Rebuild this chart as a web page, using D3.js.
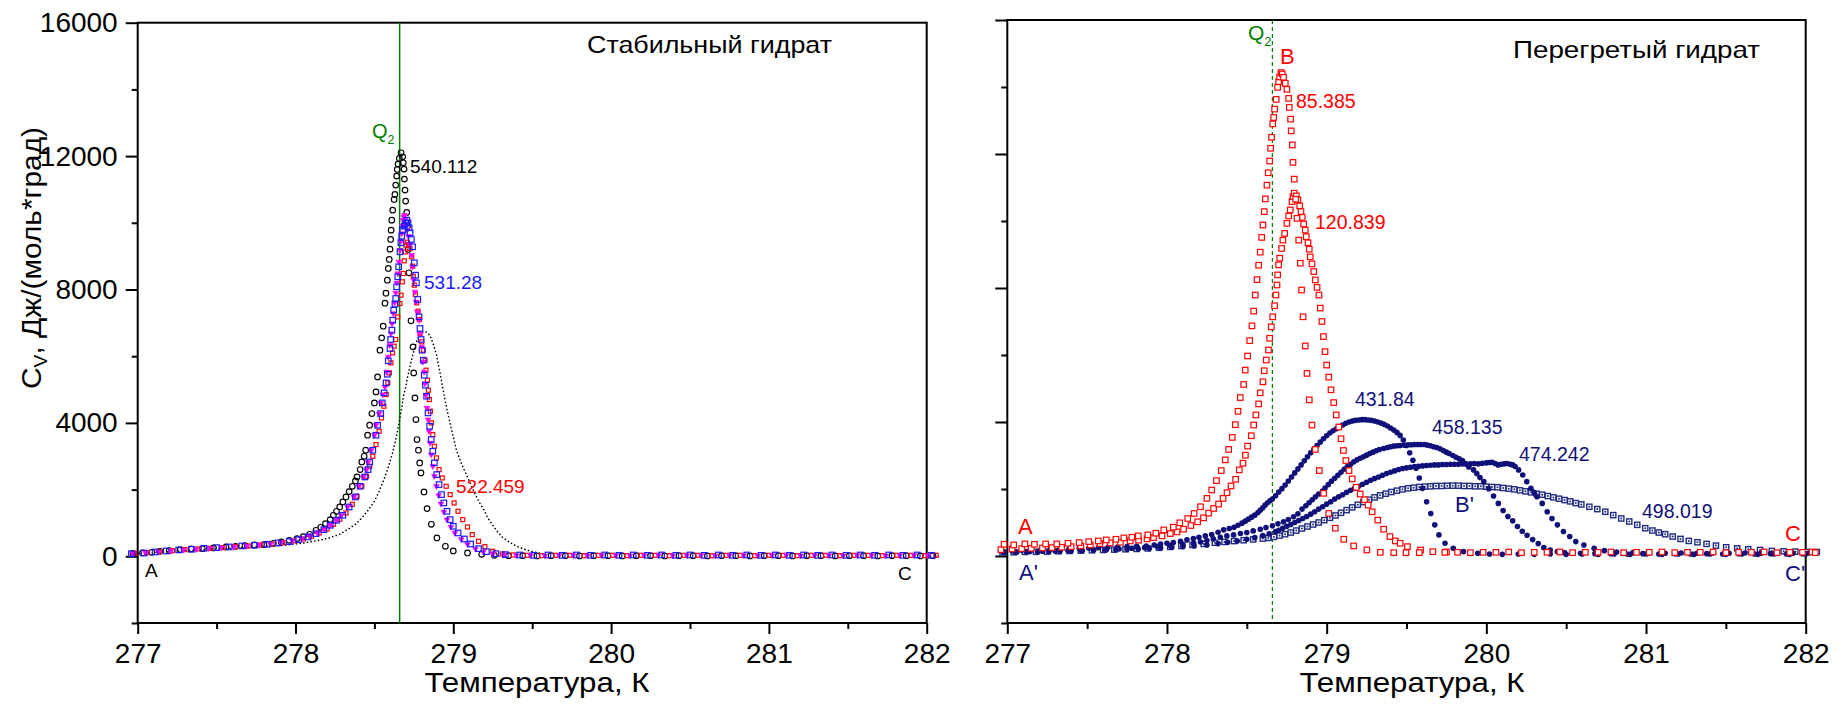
<!DOCTYPE html>
<html><head><meta charset="utf-8">
<script src="https://cdn.jsdelivr.net/npm/d3@7"></script>
<style>body{margin:0;background:#fff} svg text{font-family:"Liberation Sans",Arial,sans-serif}</style>
</head><body><svg id="c" width="1843" height="709"></svg>
<script>
// ---------- tick data ----------
const xTicks = [277, 278, 279, 280, 281, 282];
const xMinorTicks = [277.5, 278.5, 279.5, 280.5, 281.5];
const yTicks = [0, 4000, 8000, 12000, 16000];
const yMinorTicks = [-2000, 2000, 6000, 10000, 14000];
const q2Temperature = 278.66;

// ---------- left panel: stable hydrate ----------
const stable540 = [[276.97,90],[277.03,100],[277.09,120],[277.14,150],[277.2,170],[277.27,200],[277.34,220],[277.41,230],[277.48,250],[277.56,280],[277.62,300],[277.68,320],[277.74,340],[277.8,350],[277.86,390],[277.91,430],[277.96,480],[278.01,530],[278.05,590],[278.09,660],[278.13,780],[278.16,870],[278.19,980],[278.22,1100],[278.24,1230],[278.26,1350],[278.28,1480],[278.3,1630],[278.32,1780],[278.34,1940],[278.36,2100],[278.38,2260],[278.39,2380],[278.41,2600],[278.42,2830],[278.435,3000],[278.445,3180],[278.457,3630],[278.47,3930],[278.484,4280],[278.5,4600],[278.51,4930],[278.52,5380],[278.535,6180],[278.546,6550],[278.556,6900],[278.567,7590],[278.573,7890],[278.582,8280],[278.588,8630],[278.594,8900],[278.599,9210],[278.603,9500],[278.606,9780],[278.61,10080],[278.616,10380],[278.625,10700],[278.63,10850],[278.635,11130],[278.641,11400],[278.645,11600],[278.65,11760],[278.658,11930],[278.669,12100],[278.679,11980],[278.683,11800],[278.688,11610],[278.69,11310],[278.694,10980],[278.698,10650],[278.705,10310],[278.71,9900],[278.714,9200],[278.719,8500],[278.732,7060],[278.745,6280],[278.749,5500],[278.757,4750],[278.763,4100],[278.77,3500],[278.779,3180],[278.787,2800],[278.795,2500],[278.814,1930],[278.834,1430],[278.861,960],[278.896,550],[278.95,300],[279.0,160],[279.09,100],[279.18,60],[279.26,30],[279.35,20],[279.44,20],[279.53,10],[279.62,20],[279.71,20],[279.8,10],[279.89,20],[279.98,20],[280.07,10],[280.16,20],[280.25,20],[280.34,10],[280.43,20],[280.52,20],[280.61,10],[280.7,20],[280.79,20],[280.88,10],[280.97,20],[281.06,20],[281.15,10],[281.24,20],[281.33,20],[281.42,10],[281.51,20],[281.6,20],[281.69,10],[281.78,20],[281.87,20],[281.96,10],[282.04,20]];

const stable531 = [[276.96,80],[277.04,100],[277.11,130],[277.18,160],[277.26,190],[277.34,210],[277.42,240],[277.5,260],[277.58,280],[277.66,310],[277.74,330],[277.82,360],[277.89,400],[277.96,440],[278.02,500],[278.08,580],[278.13,680],[278.18,800],[278.22,930],[278.26,1080],[278.3,1230],[278.34,1480],[278.38,1780],[278.41,2100],[278.44,2380],[278.46,2600],[278.47,2830],[278.49,3180],[278.51,3630],[278.52,3930],[278.54,4280],[278.55,4600],[278.561,4900],[278.574,5200],[278.582,5460],[278.588,5860],[278.599,6230],[278.603,6500],[278.611,6780],[278.616,7080],[278.622,7380],[278.63,7560],[278.635,7730],[278.641,8080],[278.648,8380],[278.654,8680],[278.662,9130],[278.668,9400],[278.673,9600],[278.679,9780],[278.69,9900],[278.698,9980],[278.705,10080],[278.713,10000],[278.72,9850],[278.726,9700],[278.734,9500],[278.742,9280],[278.753,8800],[278.761,8430],[278.766,8200],[278.775,7700],[278.783,7180],[278.789,6830],[278.796,6500],[278.802,6180],[278.81,5880],[278.816,5430],[278.823,5130],[278.831,4800],[278.84,4300],[278.85,3900],[278.86,3500],[278.87,3150],[278.88,2800],[278.895,2450],[278.91,2150],[278.925,1850],[278.94,1600],[278.96,1350],[278.98,1100],[279.0,900],[279.03,700],[279.07,520],[279.11,370],[279.16,230],[279.21,140],[279.27,80],[279.33,50],[279.42,40],[279.51,30],[279.6,40],[279.69,30],[279.78,40],[279.87,30],[279.96,40],[280.05,30],[280.14,40],[280.23,30],[280.32,40],[280.41,30],[280.5,40],[280.59,30],[280.68,40],[280.77,30],[280.86,40],[280.95,30],[281.04,40],[281.13,30],[281.22,40],[281.31,30],[281.4,40],[281.49,30],[281.58,40],[281.67,30],[281.76,40],[281.85,30],[281.94,40],[282.03,30]];

const stableTriangles = [[276.97,80],[277.05,100],[277.13,130],[277.21,160],[277.29,190],[277.37,210],[277.45,240],[277.53,260],[277.61,280],[277.69,310],[277.77,340],[277.84,370],[277.91,410],[277.98,460],[278.04,520],[278.09,600],[278.14,700],[278.18,810],[278.22,940],[278.26,1090],[278.29,1230],[278.33,1480],[278.37,1780],[278.4,2100],[278.43,2380],[278.45,2600],[278.46,2830],[278.48,3180],[278.5,3630],[278.51,3930],[278.53,4280],[278.54,4600],[278.553,4850],[278.567,5080],[278.578,5530],[278.588,5980],[278.597,6330],[278.605,6680],[278.612,6980],[278.62,7280],[278.628,7600],[278.635,7900],[278.642,8200],[278.648,8480],[278.655,8830],[278.662,9180],[278.668,9450],[278.673,9680],[278.677,9900],[278.681,10080],[278.686,10170],[278.69,10230],[278.695,10100],[278.7,9960],[278.708,9780],[278.715,9600],[278.726,9360],[278.736,9030],[278.742,8680],[278.749,8280],[278.757,7930],[278.764,7630],[278.772,7330],[278.783,7080],[278.789,6680],[278.8,6280],[278.806,5830],[278.815,5530],[278.821,5180],[278.827,4830],[278.833,4450],[278.84,4100],[278.846,3750],[278.853,3400],[278.86,3050],[278.87,2700],[278.88,2400],[278.893,2100],[278.907,1830],[278.922,1580],[278.94,1330],[278.96,1100],[278.985,880],[279.01,700],[279.05,510],[279.09,360],[279.14,220],[279.19,130],[279.25,70],[279.32,40],[279.4,30],[279.49,30],[279.58,20],[279.67,30],[279.76,30],[279.85,20],[279.94,30],[280.03,30],[280.12,20],[280.21,30],[280.3,30],[280.39,20],[280.48,30],[280.57,30],[280.66,20],[280.75,30],[280.84,30],[280.93,20],[281.02,30],[281.11,30],[281.2,20],[281.29,30],[281.38,30],[281.47,20],[281.56,30],[281.65,30],[281.74,20],[281.83,30],[281.92,30],[282.01,20]];

const stable522 = [[276.98,90],[277.06,110],[277.14,140],[277.22,170],[277.3,200],[277.38,220],[277.46,240],[277.54,260],[277.62,290],[277.7,310],[277.78,340],[277.85,370],[277.92,410],[277.99,460],[278.05,520],[278.1,600],[278.15,700],[278.2,820],[278.24,960],[278.28,1110],[278.32,1300],[278.36,1560],[278.39,1800],[278.42,2100],[278.45,2400],[278.47,2700],[278.49,3000],[278.51,3350],[278.53,3750],[278.545,4150],[278.56,4500],[278.575,4850],[278.585,5200],[278.595,5500],[278.605,5800],[278.615,6100],[278.625,6300],[278.635,6500],[278.648,7180],[278.662,7580],[278.669,7830],[278.677,8230],[278.683,8480],[278.689,8860],[278.696,9130],[278.7,9330],[278.708,9420],[278.716,9350],[278.726,9230],[278.736,8980],[278.742,8700],[278.746,8400],[278.753,8130],[278.76,7850],[278.768,7600],[278.777,7350],[278.785,7100],[278.789,6680],[278.8,6430],[278.81,6180],[278.821,5880],[278.827,5580],[278.836,5280],[278.842,4980],[278.848,4700],[278.855,4350],[278.862,4000],[278.87,3650],[278.88,3300],[278.893,2950],[278.91,2600],[278.93,2350],[278.955,2100],[278.98,1850],[279.005,1600],[279.03,1350],[279.06,1100],[279.09,880],[279.12,650],[279.16,450],[279.2,290],[279.25,150],[279.31,70],[279.38,40],[279.47,30],[279.56,20],[279.65,30],[279.74,30],[279.83,20],[279.92,30],[280.01,30],[280.1,20],[280.19,30],[280.28,30],[280.37,20],[280.46,30],[280.55,30],[280.64,20],[280.73,30],[280.82,30],[280.91,20],[281.0,30],[281.09,30],[281.18,20],[281.27,30],[281.36,30],[281.45,20],[281.54,30],[281.63,30],[281.72,20],[281.81,30],[281.9,30],[281.99,20],[282.06,30]];

const stableDotted = [[277.0,80],[277.2,140],[277.4,200],[277.6,240],[277.8,290],[277.95,340],[278.05,400],[278.15,480],[278.22,560],[278.28,660],[278.33,800],[278.38,960],[278.42,1150],[278.46,1380],[278.5,1650],[278.53,1950],[278.56,2300],[278.59,2700],[278.615,3100],[278.64,3600],[278.66,4100],[278.675,4500],[278.683,4780],[278.7,5100],[278.708,5330],[278.725,5680],[278.74,5980],[278.757,6280],[278.771,6500],[278.788,6630],[278.805,6710],[278.82,6750],[278.835,6700],[278.852,6630],[278.864,6480],[278.879,6280],[278.894,6030],[278.906,5730],[278.919,5430],[278.932,5080],[278.943,4800],[278.96,4400],[278.98,3980],[279.0,3580],[279.02,3180],[279.05,2800],[279.08,2480],[279.11,2170],[279.137,1880],[279.165,1620],[279.195,1380],[279.22,1140],[279.25,930],[279.28,740],[279.31,580],[279.35,440],[279.39,330],[279.43,250],[279.47,180],[279.51,130],[279.55,90],[279.58,60]];

// ---------- right panel: superheated hydrate ----------
const superheated85 = [[276.98,350],[277.04,330],[277.11,360],[277.17,350],[277.24,360],[277.31,360],[277.38,380],[277.45,400],[277.51,430],[277.57,450],[277.62,480],[277.68,500],[277.73,540],[277.78,560],[277.82,600],[277.88,630],[277.93,680],[277.98,780],[278.04,860],[278.08,990],[278.13,1120],[278.17,1270],[278.21,1470],[278.25,1720],[278.28,1970],[278.31,2250],[278.34,2550],[278.365,2870],[278.386,3180],[278.409,3540],[278.428,3920],[278.445,4320],[278.459,4730],[278.48,5120],[278.49,5550],[278.505,5970],[278.518,6430],[278.532,6870],[278.543,7310],[278.553,7790],[278.564,8250],[278.574,8680],[278.584,9070],[278.593,9510],[278.601,9880],[278.609,10280],[278.616,10660],[278.626,11070],[278.634,11440],[278.643,11790],[278.649,12170],[278.655,12500],[278.662,12900],[278.668,13090],[278.674,13340],[278.684,13630],[278.693,13990],[278.699,14160],[278.706,14300],[278.714,14430],[278.722,14390],[278.73,14290],[278.741,14110],[278.751,13930],[278.762,13660],[278.766,13390],[278.774,13040],[278.778,12690],[278.785,12270],[278.789,11750],[278.797,11250],[278.806,10650],[278.814,10080],[278.825,9430],[278.835,8740],[278.843,7940],[278.852,7140],[278.866,6270],[278.877,5450],[278.891,4660],[278.908,3910],[278.929,3180],[278.954,2550],[278.981,1870],[279.013,1270],[279.054,830],[279.107,500],[279.169,300],[279.252,180],[279.336,110],[279.42,100],[279.497,100],[279.58,100],[279.74,110],[279.9,100],[280.06,110],[280.22,100],[280.38,110],[280.54,100],[280.7,110],[280.86,100],[281.02,110],[281.18,100],[281.34,110],[281.5,100],[281.66,110],[281.82,100],[281.98,110],[282.06,100]];

const superheated120 = [[276.96,190],[277.03,210],[277.09,220],[277.15,230],[277.22,240],[277.28,250],[277.34,260],[277.4,280],[277.46,300],[277.52,330],[277.58,370],[277.645,390],[277.708,410],[277.77,450],[277.822,470],[277.875,510],[277.916,550],[277.969,600],[278.021,670],[278.063,720],[278.104,800],[278.15,910],[278.192,1020],[278.229,1140],[278.261,1280],[278.292,1420],[278.323,1550],[278.351,1720],[278.376,1890],[278.401,2090],[278.43,2290],[278.453,2570],[278.476,2770],[278.491,3010],[278.505,3280],[278.528,3590],[278.543,3910],[278.557,4210],[278.574,4540],[278.584,4870],[278.601,5200],[278.609,5530],[278.622,5850],[278.636,6150],[278.643,6500],[278.653,6840],[278.662,7140],[278.674,7470],[278.682,7790],[278.689,8090],[278.693,8390],[278.699,8690],[278.706,8890],[278.718,9180],[278.726,9430],[278.737,9630],[278.751,9930],[278.762,10150],[278.772,10330],[278.783,10580],[278.789,10730],[278.797,10830],[278.81,10750],[278.82,10630],[278.831,10450],[278.839,10280],[278.847,10110],[278.856,9910],[278.866,9730],[278.872,9530],[278.883,9350],[278.891,9160],[278.897,8930],[278.908,8720],[278.919,8490],[278.929,8240],[278.94,8020],[278.952,7790],[278.96,7400],[278.97,7000],[278.98,6550],[278.99,6100],[279.0,5700],[279.013,5340],[279.027,4960],[279.044,4580],[279.06,4210],[279.076,3850],[279.09,3500],[279.105,3150],[279.12,2850],[279.14,2550],[279.16,2300],[279.185,2050],[279.21,1850],[279.237,1680],[279.26,1520],[279.285,1320],[279.32,1070],[279.357,800],[279.396,580],[279.43,450],[279.46,380],[279.506,280],[279.588,180],[279.665,130],[279.75,120],[279.82,110],[279.98,110],[280.14,120],[280.3,110],[280.46,120],[280.62,110],[280.78,120],[280.94,110],[281.1,120],[281.26,110],[281.42,120],[281.58,110],[281.74,120],[281.9,110],[282.04,120]];

const superheated431 = [[276.97,150],[277.03,160],[277.09,170],[277.15,180],[277.21,190],[277.27,200],[277.33,210],[277.39,220],[277.45,230],[277.51,240],[277.57,250],[277.63,260],[277.69,270],[277.75,280],[277.81,290],[277.87,300],[277.92,330],[277.96,360],[278.0,380],[278.04,400],[278.085,440],[278.125,480],[278.165,520],[278.2,560],[278.24,600],[278.28,640],[278.32,710],[278.355,780],[278.39,820],[278.42,860],[278.445,920],[278.47,980],[278.49,1040],[278.51,1100],[278.53,1160],[278.55,1220],[278.57,1300],[278.585,1370],[278.6,1440],[278.615,1520],[278.63,1590],[278.645,1650],[278.66,1700],[278.68,1800],[278.7,1910],[278.72,2010],[278.74,2120],[278.76,2240],[278.78,2360],[278.8,2480],[278.82,2600],[278.84,2720],[278.86,2840],[278.88,2960],[278.9,3080],[278.92,3190],[278.94,3300],[278.96,3400],[278.98,3500],[279.0,3590],[279.02,3670],[279.04,3740],[279.06,3800],[279.08,3860],[279.1,3910],[279.12,3960],[279.14,4000],[279.16,4030],[279.18,4050],[279.2,4060],[279.22,4070],[279.24,4070],[279.26,4060],[279.28,4050],[279.3,4030],[279.32,4000],[279.34,3970],[279.36,3930],[279.38,3880],[279.4,3820],[279.42,3760],[279.44,3690],[279.46,3600],[279.48,3460],[279.5,3300],[279.52,3080],[279.54,2860],[279.56,2620],[279.58,2330],[279.6,2020],[279.626,1620],[279.652,1270],[279.677,930],[279.703,630],[279.741,380],[279.793,230],[279.857,130],[279.946,80],[280.02,60],[280.1,50],[280.2,60],[280.3,50],[280.4,60],[280.5,50],[280.6,60],[280.7,50],[280.8,60],[280.9,50],[281.0,60],[281.1,50],[281.2,60],[281.3,50],[281.4,60],[281.5,50],[281.6,60],[281.7,50],[281.8,60],[281.9,50],[282.0,60]];

const superheated458 = [[276.98,110],[277.06,120],[277.14,130],[277.22,140],[277.3,150],[277.38,160],[277.46,170],[277.54,180],[277.62,190],[277.7,210],[277.78,230],[277.86,250],[277.94,280],[278.02,310],[278.1,340],[278.167,380],[278.21,420],[278.25,460],[278.29,510],[278.334,560],[278.375,600],[278.417,630],[278.46,670],[278.5,700],[278.54,750],[278.584,800],[278.62,850],[278.66,900],[278.695,960],[278.73,1020],[278.76,1090],[278.793,1170],[278.82,1260],[278.846,1400],[278.87,1500],[278.89,1590],[278.91,1680],[278.93,1770],[278.95,1850],[278.974,1940],[278.99,2030],[279.01,2130],[279.03,2230],[279.05,2320],[279.07,2410],[279.09,2500],[279.11,2590],[279.13,2670],[279.15,2740],[279.17,2810],[279.19,2870],[279.21,2920],[279.23,2960],[279.25,3010],[279.27,3060],[279.29,3100],[279.31,3140],[279.33,3180],[279.357,3210],[279.38,3240],[279.4,3260],[279.42,3280],[279.44,3290],[279.46,3300],[279.485,3310],[279.51,3320],[279.53,3320],[279.55,3330],[279.57,3330],[279.59,3330],[279.613,3330],[279.63,3310],[279.65,3290],[279.67,3260],[279.69,3240],[279.71,3200],[279.73,3150],[279.75,3100],[279.767,3060],[279.79,3000],[279.81,2950],[279.83,2900],[279.85,2850],[279.87,2760],[279.89,2660],[279.92,2570],[279.94,2460],[279.96,2340],[279.984,2220],[280.015,2010],[280.045,1790],[280.075,1570],[280.105,1360],[280.135,1180],[280.165,1050],[280.195,880],[280.225,740],[280.255,620],[280.29,490],[280.325,370],[280.36,250],[280.4,180],[280.445,130],[280.49,100],[280.54,90],[280.59,80],[280.68,70],[280.78,70],[280.88,60],[280.98,70],[281.08,60],[281.18,70],[281.28,60],[281.38,70],[281.48,60],[281.58,70],[281.68,60],[281.78,70],[281.88,60],[281.98,70]];

const superheated474 = [[276.98,100],[277.05,110],[277.12,120],[277.19,120],[277.26,130],[277.33,140],[277.4,150],[277.47,160],[277.54,170],[277.61,180],[277.68,190],[277.75,200],[277.82,210],[277.89,230],[277.96,240],[278.03,260],[278.1,280],[278.17,300],[278.25,330],[278.32,370],[278.38,410],[278.44,450],[278.5,500],[278.55,550],[278.6,610],[278.64,660],[278.68,730],[278.7,770],[278.725,830],[278.75,890],[278.775,940],[278.8,1000],[278.825,1060],[278.85,1120],[278.875,1180],[278.9,1250],[278.925,1320],[278.95,1400],[278.975,1470],[279.0,1550],[279.025,1620],[279.05,1700],[279.075,1770],[279.1,1830],[279.125,1900],[279.15,1960],[279.175,2020],[279.2,2080],[279.225,2140],[279.25,2200],[279.275,2260],[279.3,2310],[279.325,2360],[279.35,2410],[279.375,2460],[279.4,2500],[279.425,2540],[279.45,2580],[279.475,2610],[279.5,2630],[279.525,2650],[279.55,2670],[279.575,2680],[279.6,2690],[279.625,2700],[279.65,2710],[279.675,2720],[279.7,2720],[279.725,2730],[279.75,2730],[279.775,2740],[279.8,2740],[279.825,2740],[279.85,2750],[279.875,2740],[279.9,2750],[279.925,2760],[279.95,2750],[279.975,2770],[280.0,2780],[280.02,2790],[280.036,2800],[280.055,2760],[280.074,2720],[280.093,2740],[280.112,2750],[280.13,2760],[280.151,2740],[280.165,2720],[280.18,2670],[280.202,2570],[280.228,2420],[280.253,2220],[280.279,2020],[280.3,1890],[280.317,1770],[280.35,1570],[280.381,1320],[280.411,1120],[280.445,930],[280.483,730],[280.522,580],[280.56,430],[280.611,330],[280.675,230],[280.739,160],[280.816,120],[280.918,100],[281.02,90],[281.12,80],[281.22,90],[281.32,80],[281.42,90],[281.52,80],[281.62,90],[281.72,80],[281.82,90],[281.92,80],[282.02,90]];

const superheated498 = [[276.97,110],[277.04,110],[277.11,120],[277.18,125],[277.25,130],[277.32,140],[277.39,150],[277.46,160],[277.53,170],[277.6,180],[277.67,190],[277.74,200],[277.81,210],[277.88,225],[277.95,245],[278.02,270],[278.09,300],[278.16,330],[278.23,360],[278.3,395],[278.36,420],[278.42,445],[278.48,470],[278.54,495],[278.6,520],[278.635,540],[278.67,570],[278.705,610],[278.74,650],[278.775,700],[278.81,760],[278.845,820],[278.88,880],[278.915,940],[278.95,1000],[278.985,1070],[279.02,1140],[279.055,1210],[279.09,1290],[279.125,1370],[279.16,1450],[279.195,1530],[279.23,1610],[279.265,1680],[279.3,1750],[279.335,1810],[279.37,1860],[279.405,1910],[279.44,1950],[279.475,1990],[279.51,2020],[279.545,2040],[279.58,2060],[279.615,2070],[279.65,2080],[279.685,2090],[279.72,2090],[279.755,2100],[279.79,2100],[279.825,2100],[279.86,2090],[279.895,2090],[279.93,2080],[279.965,2080],[280.0,2070],[280.035,2060],[280.07,2050],[280.105,2030],[280.14,2010],[280.175,1990],[280.21,1960],[280.245,1930],[280.28,1900],[280.315,1860],[280.35,1830],[280.385,1790],[280.42,1750],[280.455,1710],[280.49,1670],[280.525,1630],[280.56,1580],[280.595,1540],[280.645,1470],[280.695,1400],[280.745,1320],[280.795,1220],[280.845,1120],[280.895,1030],[280.945,930],[280.995,830],[281.04,760],[281.08,700],[281.12,650],[281.167,580],[281.216,510],[281.268,450],[281.322,410],[281.379,360],[281.438,310],[281.502,260],[281.571,230],[281.64,200],[281.714,180],[281.788,150],[281.862,140],[281.935,130],[282.01,120],[282.07,120]];

// ---------- drawing ----------
const svg = d3.select('#c');
const FONT = '"Liberation Sans",Arial,sans-serif';
const NAVY = '#10107a', RED = '#ff0000', BLUE = '#1a1aff', MAG = '#ff00ff', GREEN = '#008000', NAVY2 = '#1f2c82';

const xL = d3.scaleLinear().domain([277, 282]).range([137.7, 926.7]);
const yL = d3.scaleLinear().domain([-2000, 16000]).range([623, 22.7]);
const xR = d3.scaleLinear().domain([277, 282]).range([1007.3, 1805.7]);
const yR = d3.scaleLinear().domain([-2000, 16000]).range([623, 20]);

function axes(x, y, labels) {
  const g = svg.append('g');
  const bottom = y(-2000), left = x(277);
  const ym = g.append('g').attr('transform', `translate(${left},0)`)
    .call(d3.axisLeft(y).tickValues(yTicks).tickSize(12).tickSizeOuter(0).tickPadding(8)
      .tickFormat(labels ? d3.format('d') : () => ''));
  const yn = g.append('g').attr('transform', `translate(${left},0)`)
    .call(d3.axisLeft(y).tickValues(yMinorTicks).tickSize(6).tickSizeOuter(0).tickFormat(() => ''));
  const xm = g.append('g').attr('transform', `translate(0,${bottom})`)
    .call(d3.axisBottom(x).tickValues(xTicks).tickSize(11).tickSizeOuter(0).tickPadding(9).tickFormat(d3.format('d')));
  const xn = g.append('g').attr('transform', `translate(0,${bottom})`)
    .call(d3.axisBottom(x).tickValues(xMinorTicks).tickSize(6).tickSizeOuter(0).tickFormat(() => ''));
  [ym, yn, xm, xn].forEach(a => {
    a.select('.domain').remove();
    a.selectAll('line').attr('stroke', '#000').attr('stroke-width', 2);
    a.selectAll('text').attr('font-size', 28).attr('font-family', FONT).attr('fill', '#000');
  });
  g.append('rect').attr('x', x(277)).attr('y', y(16000))
    .attr('width', x(282) - x(277)).attr('height', y(-2000) - y(16000))
    .attr('fill', 'none').attr('stroke', '#000').attr('stroke-width', 2);
}

function squares(data, x, y, side, color, sw, fill) {
  svg.append('g').selectAll('rect').data(data).join('rect')
    .attr('x', d => x(d[0]) - side / 2).attr('y', d => y(d[1]) - side / 2)
    .attr('width', side).attr('height', side)
    .attr('fill', fill).attr('stroke', color).attr('stroke-width', sw);
}
function circles(data, x, y, r, stroke, fill, sw) {
  svg.append('g').selectAll('circle').data(data).join('circle')
    .attr('cx', d => x(d[0])).attr('cy', d => y(d[1])).attr('r', r)
    .attr('fill', fill).attr('stroke', stroke).attr('stroke-width', sw);
}
function text(x, y, str, size, color, anchor) {
  return svg.append('text').attr('x', x).attr('y', y).text(str)
    .attr('font-size', size).attr('fill', color).attr('font-family', FONT)
    .attr('text-anchor', anchor || 'start');
}
function q2(x, y, size) {
  const t = svg.append('text').attr('x', x).attr('y', y).attr('fill', GREEN)
    .attr('font-family', FONT).attr('font-size', size);
  t.append('tspan').text('Q');
  t.append('tspan').attr('font-size', size * 0.62).attr('dy', size * 0.28).text('2');
}

// ---- left panel ----
axes(xL, yL, true);
svg.append('line').attr('x1', xL(q2Temperature)).attr('x2', xL(q2Temperature))
  .attr('y1', yL(16000)).attr('y2', yL(-2000)).attr('stroke', GREEN).attr('stroke-width', 1.5);

svg.append('path').datum(stableDotted)
  .attr('d', d3.line().x(d => xL(d[0])).y(d => yL(d[1])))
  .attr('fill', 'none').attr('stroke', '#000').attr('stroke-width', 1.6)
  .attr('stroke-dasharray', '0.1,3.6').attr('stroke-linecap', 'round');
circles(stable540, xL, yL, 2.8, '#000', 'none', 1.15);
squares(stable522, xL, yL, 4, RED, 1.2, 'none');
svg.append('g').selectAll('path').data(stableTriangles).join('path')
  .attr('d', d3.symbol().type(d3.symbolTriangle).size(14))
  .attr('transform', d => `translate(${xL(d[0])},${yL(d[1])}) rotate(180)`)
  .attr('fill', MAG).attr('stroke', MAG).attr('stroke-width', 0.6);
squares(stable531, xL, yL, 5.5, BLUE, 1.2, 'none');

text(410, 173, '540.112', 19, '#000');
text(424, 289, '531.28', 19, BLUE);
text(456, 493, '522.459', 19, RED);
text(145, 577, 'A', 19, '#000');
text(898, 580, 'C', 19, '#000');
q2(372, 138, 20);
text(587, 53, 'Стабильный гидрат', 24, '#000').attr('textLength', 245).attr('lengthAdjust', 'spacingAndGlyphs');
text(537, 692, 'Температура, К', 28, '#000', 'middle').attr('textLength', 225).attr('lengthAdjust', 'spacingAndGlyphs');
const yl = svg.append('text').attr('transform', 'translate(41,258) rotate(-90)')
  .attr('text-anchor', 'middle').attr('font-family', FONT).attr('font-size', 28).attr('fill', '#000')
  .attr('textLength', 262).attr('lengthAdjust', 'spacingAndGlyphs');
yl.append('tspan').text('C');
yl.append('tspan').attr('font-size', 18).attr('dy', 6).text('V');
yl.append('tspan').attr('dy', -6).text(', Дж/(моль*град)');

// ---- right panel ----
axes(xR, yR, false);
svg.append('line').attr('x1', xR(q2Temperature)).attr('x2', xR(q2Temperature))
  .attr('y1', yR(16000)).attr('y2', yR(-2000)).attr('stroke', GREEN).attr('stroke-width', 1.2)
  .attr('stroke-dasharray', '4,3');

squares(superheated498, xR, yR, 5.2, NAVY2, 1.4, '#fff');
circles(superheated498, xR, yR, 1, 'none', NAVY2, 0);
circles(superheated474, xR, yR, 2.8, 'none', NAVY, 0);
circles(superheated458, xR, yR, 2.8, 'none', NAVY, 0);
circles(superheated431, xR, yR, 2.8, 'none', NAVY, 0);
squares(superheated120, xR, yR, 5.5, RED, 1.2, '#fff');
squares(superheated85, xR, yR, 5.5, RED, 1.2, '#fff');

text(1296, 108, '85.385', 19.5, RED);
text(1315, 229, '120.839', 19.5, RED);
text(1355, 406, '431.84', 19.5, NAVY);
text(1432, 434, '458.135', 19.5, NAVY);
text(1519, 461, '474.242', 19.5, NAVY);
text(1642, 518, '498.019', 19.5, NAVY);
text(1280, 64, 'B', 22, RED);
text(1455, 512, "B'", 22, NAVY);
text(1018, 534, 'A', 22, RED);
text(1019, 580, "A'", 22, NAVY);
text(1785, 541, 'C', 22, RED);
text(1785, 581, "C'", 22, NAVY);
q2(1248, 40, 21);
text(1513, 58, 'Перегретый гидрат', 24, '#000').attr('textLength', 247).attr('lengthAdjust', 'spacingAndGlyphs');
text(1412, 692, 'Температура, К', 28, '#000', 'middle').attr('textLength', 225).attr('lengthAdjust', 'spacingAndGlyphs');
</script></body></html>
